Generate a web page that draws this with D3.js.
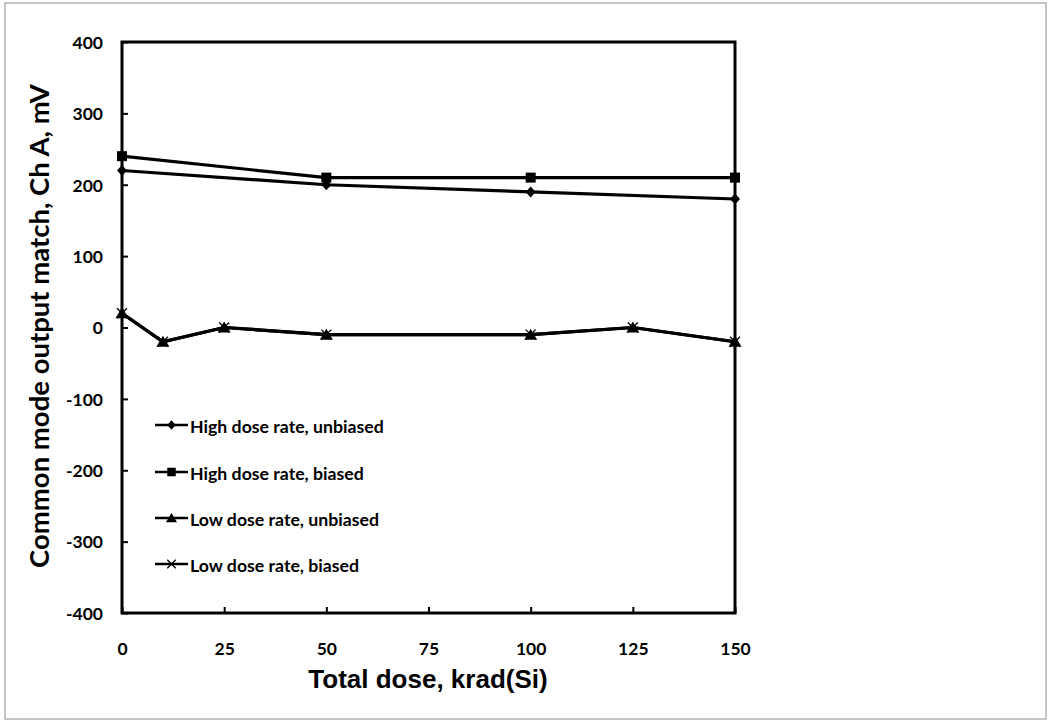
<!DOCTYPE html>
<html><head><meta charset="utf-8">
<script src="https://cdn.jsdelivr.net/npm/d3@7"></script>
<style>body{margin:0;background:#fff}</style>
</head><body>
<svg id="c" width="1051" height="721"></svg>
<script>
const xTicks = [0,25,50,75,100,125,150];
const yTicks = [-400,-300,-200,-100,0,100,200,300,400];
const seriesNames = ["High dose rate, unbiased","High dose rate, biased","Low dose rate, unbiased","Low dose rate, biased"];
const highUnbiasedX = [0,50,100,150];
const highUnbiasedY = [220,200,190,180];
const highBiasedX = [0,50,100,150];
const highBiasedY = [240,210,210,210];
const lowUnbiasedX = [0,10,25,50,100,125,150];
const lowUnbiasedY = [20,-20,0,-10,-10,0,-20];
const lowBiasedX = [0,10,25,50,100,125,150];
const lowBiasedY = [20,-20,0,-10,-10,0,-20];
const markers = ["diamond","square","triangle","x"];

const svg = d3.select("#c");
svg.append("rect").attr("x",5).attr("y",3).attr("width",1041).attr("height",716)
  .attr("fill","none").attr("stroke","#b3b3b3").attr("stroke-width",1.5);

const L=122,R=735,T=42,B=613;
const x = d3.scaleLinear().domain([0,150]).range([L,R]);
const y = d3.scaleLinear().domain([-400,400]).range([B,T]);

const tickFont = "Lato, 'Open Sans', sans-serif";
const fmt = d => String(d);
// x axis
const xa = svg.append("g").attr("transform",`translate(0,${B})`)
  .call(d3.axisBottom(x).tickValues(xTicks).tickFormat(fmt).tickSize(-6).tickPadding(0).tickSizeOuter(0));
xa.select(".domain").remove();
xa.selectAll(".tick line").attr("stroke","#000").attr("stroke-width",2);
xa.selectAll(".tick text").attr("y",42).attr("dy",0).attr("font-family",tickFont)
  .attr("font-weight","bold").attr("font-size",17.5).attr("fill","#000");
// y axis
const ya = svg.append("g").attr("transform",`translate(${L},0)`)
  .call(d3.axisLeft(y).tickValues(yTicks).tickFormat(fmt).tickSize(-6).tickPadding(0).tickSizeOuter(0));
ya.select(".domain").remove();
ya.selectAll(".tick line").attr("stroke","#000").attr("stroke-width",2);
ya.selectAll(".tick text").attr("x",-19).attr("dy","0.36em").attr("font-family",tickFont)
  .attr("font-weight","bold").attr("font-size",17.5).attr("fill","#000");

// plot box
svg.append("rect").attr("x",L).attr("y",T).attr("width",R-L).attr("height",B-T)
  .attr("fill","none").attr("stroke","#000").attr("stroke-width",3);

const series = [
  {xs:highUnbiasedX, ys:highUnbiasedY},
  {xs:highBiasedX, ys:highBiasedY},
  {xs:lowUnbiasedX, ys:lowUnbiasedY},
  {xs:lowBiasedX, ys:lowBiasedY}
];
const line = d3.line().x(d=>x(d[0])).y(d=>y(d[1]));

function drawMarker(g, type, cx, cy, s){
  if(type==="diamond"){
    g.append("path").attr("d",`M${cx},${cy-5.5*s}L${cx+5*s},${cy}L${cx},${cy+5.5*s}L${cx-5*s},${cy}Z`).attr("fill","#000");
  } else if(type==="square"){
    g.append("rect").attr("x",cx-5*s).attr("y",cy-5*s).attr("width",10*s).attr("height",10*s).attr("fill","#000");
  } else if(type==="triangle"){
    g.append("path").attr("d",`M${cx},${cy-6*s}L${cx+6.5*s},${cy+5*s}L${cx-6.5*s},${cy+5*s}Z`).attr("fill","#000");
  } else {
    g.append("path").attr("d",`M${cx-5*s},${cy-5*s}L${cx+5*s},${cy+5*s}M${cx-5*s},${cy+5*s}L${cx+5*s},${cy-5*s}`)
      .attr("stroke","#000").attr("stroke-width",1.3);
  }
}

series.forEach((s,i)=>{
  const pts = s.xs.map((v,j)=>[v,s.ys[j]]);
  const g = svg.append("g");
  g.append("path").attr("d",line(pts)).attr("fill","none").attr("stroke","#000").attr("stroke-width",3.2);
  pts.forEach(p=>drawMarker(g,markers[i],x(p[0]),y(p[1]),1));
});

// legend
const legY = [425,472,518,564];
seriesNames.forEach((n,i)=>{
  const g = svg.append("g");
  g.append("line").attr("x1",155).attr("x2",188).attr("y1",legY[i]).attr("y2",legY[i])
    .attr("stroke","#000").attr("stroke-width",2.5);
  drawMarker(g,markers[i],171.5,legY[i],0.85);
  g.append("text").attr("x",190).attr("y",legY[i]+7.5)
    .attr("font-family",tickFont).attr("font-weight","bold").attr("font-size",17.7).text(n);
});

// axis titles
svg.append("text").attr("x",428).attr("y",688).attr("text-anchor","middle")
  .attr("font-family","'Liberation Sans', Arial, sans-serif").attr("font-weight","bold")
  .attr("font-size",26).text("Total dose, krad(Si)");
svg.append("text").attr("transform","translate(49,326) rotate(-90)").attr("text-anchor","middle")
  .attr("font-family",tickFont).attr("font-weight","bold")
  .attr("font-size",27.5).text("Common mode output match, Ch A, mV");
</script>
</body></html>
